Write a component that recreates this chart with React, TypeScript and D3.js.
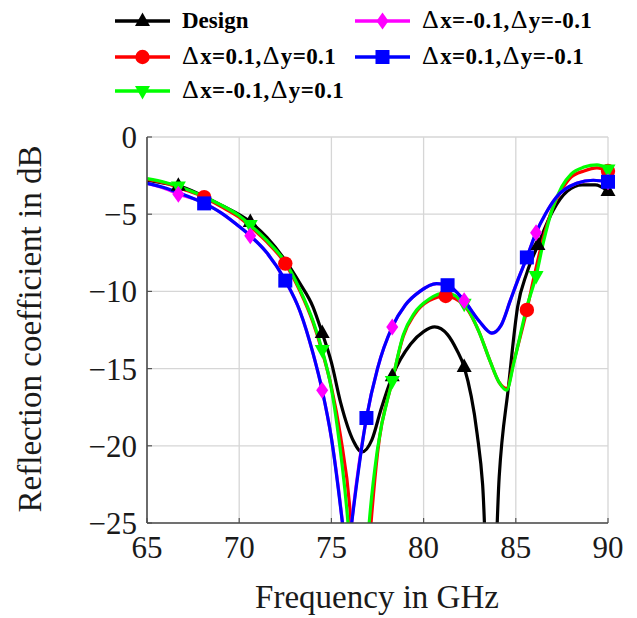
import React from "react";
import * as d3 from "d3";

type Pt = [number, number];

const xTicks = [65, 70, 75, 80, 85, 90];
const yTicks = [0, -5, -10, -15, -20, -25];

const design: Pt[] = [[65,-2.8],[66,-3.0],[66.7,-3.15],[68,-3.8],[69,-4.4],[70.6,-5.5],[71.5,-6.5],[72.5,-8.0],[73.3,-9.5],[74,-11.0],[74.5,-12.7],[75,-14.6],[75.5,-17.2],[76.2,-19.7],[76.65,-20.4],[77.2,-19.6],[77.7,-17.6],[78.3,-15.5],[79.3,-13.4],[80,-12.6],[80.6,-12.3],[81.3,-12.8],[81.8,-13.8],[82.2,-14.9],[82.9,-19.2],[83.2,-22.5],[83.65,-34],[84.1,-22],[84.6,-16.2],[85.1,-11.0],[85.6,-8.8],[86.2,-7.0],[87,-4.8],[87.8,-3.5],[88.6,-3.1],[89.3,-3.1],[90,-3.5]];
const designMarks = [66.7, 70.6, 74.5, 78.3, 82.2, 86.2, 90];

const redS: Pt[] = [[65,-2.75],[66,-3.0],[67,-3.4],[68.1,-3.9],[69,-4.5],[70,-5.2],[70.6,-5.8],[71.5,-6.8],[72.5,-8.2],[73.3,-10.0],[74,-12.0],[74.5,-13.9],[75,-16.2],[75.5,-19.4],[76,-24],[76.5,-34],[76.85,-30],[77.15,-25],[77.5,-20.5],[78.3,-15.8],[78.9,-12.9],[79.5,-11.5],[80.3,-10.6],[81.2,-10.3],[82.2,-10.9],[83,-12.6],[83.6,-14.5],[84.1,-15.9],[84.5,-16.3],[84.9,-14.5],[85.6,-11.2],[86,-9.0],[86.5,-6.5],[87,-4.6],[87.5,-3.4],[88,-2.6],[88.7,-2.2],[89.4,-2.0],[90,-2.2]];
const redMarks = [68.1, 72.5, 76.85, 81.2, 85.6, 90];

const greenS: Pt[] = [[65,-2.7],[66,-2.95],[66.7,-3.2],[68,-3.8],[69,-4.4],[70,-5.1],[70.6,-5.7],[71.5,-6.7],[72.5,-8.1],[73.3,-9.9],[74,-11.9],[74.5,-13.8],[75,-16.3],[75.3,-18.6],[75.9,-25],[76.5,-36],[77.05,-25],[77.5,-20.2],[78.3,-15.8],[78.9,-12.8],[79.5,-11.4],[80.3,-10.5],[81.2,-10.1],[82.2,-10.8],[83,-12.6],[83.6,-14.5],[84.1,-15.9],[84.5,-16.4],[84.9,-14.6],[85.6,-11.0],[86.1,-9.0],[86.5,-6.8],[87,-4.6],[87.5,-3.2],[88,-2.4],[88.7,-1.95],[89.4,-1.8],[90,-2.1]];
const greenMarks = [66.7, 70.6, 74.5, 78.3, 82.2, 86.1, 90];

const magentaS: Pt[] = [[65,-3.0],[66,-3.35],[66.7,-3.7],[68,-4.2],[69,-4.9],[70,-5.8],[70.6,-6.4],[71.5,-7.5],[72.5,-9.3],[73.3,-11.3],[74,-14.0],[74.5,-16.4],[75,-19.5],[75.6,-25],[75.85,-28],[76.1,-25],[76.9,-18.2],[77.5,-15.0],[78.3,-12.3],[79,-10.9],[79.8,-10.0],[80.7,-9.5],[81.3,-9.6],[82.2,-10.6],[83,-11.9],[83.7,-12.7],[84.2,-12.2],[84.7,-10.6],[85.1,-9.3],[85.6,-7.8],[86.1,-6.2],[86.6,-5.0],[87.2,-3.9],[88.3,-3.0],[89.2,-2.8],[90,-2.9]];
const magentaMarks = [66.7, 70.6, 74.5, 78.3, 82.2, 86.1, 90];

const blueS: Pt[] = [[65,-3.0],[66,-3.3],[66.7,-3.6],[68.1,-4.3],[69,-4.9],[70,-5.8],[70.6,-6.4],[71.5,-7.5],[72.5,-9.3],[73.3,-11.3],[74,-14.0],[74.5,-16.4],[75,-19.5],[75.6,-25],[75.85,-27.5],[76.1,-25],[76.9,-18.2],[77.5,-15.0],[78.3,-12.3],[79,-10.9],[79.8,-10.0],[80.7,-9.5],[81.3,-9.6],[82.2,-10.6],[83,-11.9],[83.7,-12.7],[84.2,-12.2],[84.7,-10.6],[85.1,-9.3],[85.6,-7.8],[86.1,-6.2],[86.6,-5.0],[87.2,-3.9],[88.3,-3.0],[89.2,-2.8],[90,-2.9]];
const blueMarks = [68.1, 72.5, 76.9, 81.3, 85.6, 90];

type Shape = "tri" | "circle" | "triDown" | "diamond" | "square";
const seriesNames = ["Design", "Δx=0.1,Δy=0.1", "Δx=-0.1,Δy=0.1", "Δx=-0.1,Δy=-0.1", "Δx=0.1,Δy=-0.1"];
const seriesColors = ["#000000", "#ff0000", "#00ff00", "#ff00ff", "#0000ff"];
const seriesShapes: Shape[] = ["tri", "circle", "triDown", "diamond", "square"];
const seriesData = [design, redS, greenS, magentaS, blueS];
const seriesMarks = [designMarks, redMarks, greenMarks, magentaMarks, blueMarks];

const L = 147, R = 608, T = 137, B = 523;

function Marker({ shape, cx, cy, color }: { shape: Shape; cx: number; cy: number; color: string }) {
  if (shape === "circle") return <circle cx={cx} cy={cy} r={7.2} fill={color} />;
  if (shape === "square") return <rect x={cx - 7} y={cy - 7} width={14} height={14} fill={color} />;
  if (shape === "tri") return <path d={`M${cx},${cy - 8.5}L${cx + 7.5},${cy + 5}L${cx - 7.5},${cy + 5}Z`} fill={color} />;
  if (shape === "triDown") return <path d={`M${cx},${cy + 8.5}L${cx + 7.5},${cy - 5}L${cx - 7.5},${cy - 5}Z`} fill={color} />;
  return <path d={`M${cx},${cy - 8.5}L${cx + 6},${cy}L${cx},${cy + 8.5}L${cx - 6},${cy}Z`} fill={color} />;
}

function LegendLabel({ text, x, y }: { text: string; x: number; y: number }) {
  const parts = text.split("Δ");
  return (
    <text x={x} y={y} fontSize={23} fontWeight="bold" fill="#000" letterSpacing={text.includes("Δ") ? 0.4 : 0}>
      {parts.map((p, i) => (
        <React.Fragment key={i}>
          {i > 0 && <tspan fontWeight="normal" fontSize={26} dx={i > 1 ? 1 : 0}>Δ</tspan>}
          {p && <tspan dx={i > 0 ? 1 : 0}>{p}</tspan>}
        </React.Fragment>
      ))}
    </text>
  );
}

export default function App() {
  const x = d3.scaleLinear().domain([65, 90]).range([L, R]);
  const y = d3.scaleLinear().domain([-25, 0]).range([B, T]);
  const line = d3.line<Pt>().x(d => x(d[0])).y(d => y(d[1])).curve(d3.curveMonotoneX);

  const legendPos = [
    { lx: 115, ly: 21, tx: 182 },
    { lx: 115, ly: 57, tx: 182 },
    { lx: 115, ly: 91, tx: 182 },
    { lx: 355, ly: 21, tx: 422 },
    { lx: 355, ly: 57, tx: 422 },
  ];

  return (
    <svg width={637} height={618} style={{ position: "absolute", left: 0, top: 0, background: "#fff" }} fontFamily="'Liberation Serif', 'Times New Roman', serif">
      <defs>
        <clipPath id="plotclip">
          <rect x={L} y={T} width={R - L} height={B - T} />
        </clipPath>
      </defs>
      {xTicks.map(t => (
        <line key={"gx" + t} x1={x(t)} x2={x(t)} y1={T} y2={B} stroke="#d6d6d6" strokeWidth={1.3} />
      ))}
      {yTicks.map(t => (
        <line key={"gy" + t} x1={L} x2={R} y1={y(t)} y2={y(t)} stroke="#d6d6d6" strokeWidth={1.3} />
      ))}
      {xTicks.map(t => (
        <line key={"tx" + t} x1={x(t)} x2={x(t)} y1={B} y2={B - 5} stroke="#555" strokeWidth={1.2} />
      ))}
      {yTicks.map(t => (
        <line key={"ty" + t} x1={L} x2={L + 5} y1={y(t)} y2={y(t)} stroke="#555" strokeWidth={1.2} />
      ))}
      <g clipPath="url(#plotclip)">
        {seriesData.map((d, i) => (
          <path key={"l" + i} d={line(d) || ""} fill="none" stroke={seriesColors[i]} strokeWidth={3.2} strokeLinejoin="round" />
        ))}
      </g>
      <line x1={L} x2={L} y1={T} y2={B} stroke="#4d4d4d" strokeWidth={1.6} />
      <line x1={L} x2={R} y1={B} y2={B} stroke="#4d4d4d" strokeWidth={1.6} />
      {seriesData.map((d, i) =>
        seriesMarks[i].map(mf => {
          const p = d.find(q => q[0] === mf);
          if (!p || p[1] < -25) return null;
          return <Marker key={"m" + i + "-" + mf} shape={seriesShapes[i]} cx={x(p[0])} cy={y(p[1])} color={seriesColors[i]} />;
        })
      )}
      {xTicks.map(t => (
        <text key={"xl" + t} x={x(t)} y={558} textAnchor="middle" fontSize={31} fill="#1a1a1a">{t}</text>
      ))}
      {yTicks.map(t => (
        <text key={"yl" + t} x={137} y={y(t) + 11} textAnchor="end" fontSize={31} fill="#1a1a1a">{t < 0 ? "\u2212" + Math.abs(t) : String(t)}</text>
      ))}
      <text x={377} y={608} textAnchor="middle" fontSize={33} fill="#1a1a1a">Frequency in GHz</text>
      <text transform={`translate(41,329) rotate(-90)`} textAnchor="middle" fontSize={33} fill="#1a1a1a">Reflection coefficient in dB</text>
      {seriesNames.map((n, i) => {
        const p = legendPos[i];
        return (
          <g key={"lg" + i}>
            <line x1={p.lx} x2={p.lx + 55} y1={p.ly} y2={p.ly} stroke={seriesColors[i]} strokeWidth={3.4} />
            <Marker shape={seriesShapes[i]} cx={p.lx + 27.5} cy={p.ly} color={seriesColors[i]} />
            <LegendLabel text={n} x={p.tx} y={p.ly + 7} />
          </g>
        );
      })}
    </svg>
  );
}
